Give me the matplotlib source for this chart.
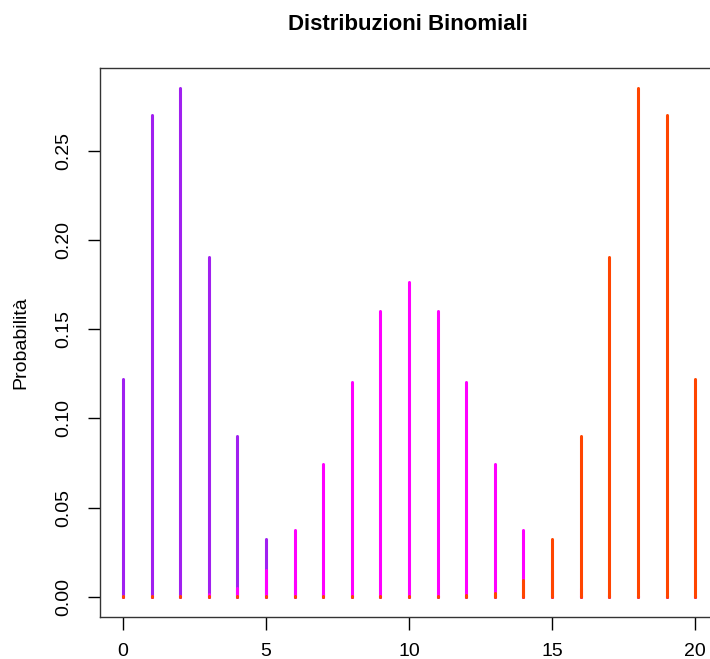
import matplotlib
matplotlib.use("Agg")
import matplotlib.pyplot as plt

plt.rcParams['font.family'] = ['Liberation Sans', 'DejaVu Sans']

x = list(range(21))
p_01 = [0.1216, 0.2702, 0.2852, 0.1901, 0.0898, 0.0319, 0.0089, 0.0020, 0.0004,
        0.0001, 0.0000, 0.0, 0.0, 0.0, 0.0, 0.0, 0.0, 0.0, 0.0, 0.0, 0.0]
p_05 = [0.0000, 0.0000, 0.0002, 0.0011, 0.0046, 0.0148, 0.0370, 0.0739, 0.1201,
        0.1602, 0.1762, 0.1602, 0.1201, 0.0739, 0.0370, 0.0148, 0.0046, 0.0011,
        0.0002, 0.0000, 0.0000]
p_09 = [0.0, 0.0, 0.0, 0.0, 0.0, 0.0, 0.0, 0.0, 0.0, 0.0, 0.0000, 0.0001, 0.0004,
        0.0020, 0.0089, 0.0319, 0.0898, 0.1901, 0.2852, 0.2702, 0.1216]

series = [(p_01, '#A020F0'), (p_05, '#FF00FF'), (p_09, '#FF4500')]
xticks = [0, 5, 10, 15, 20]
yticks = [0.00, 0.05, 0.10, 0.15, 0.20, 0.25]

fig = plt.figure(figsize=(7.10, 6.59), dpi=100)
ax = fig.add_axes([100/710, (659-617)/659, 618/710, (617-68)/659])

for vals, col in series:
    ax.vlines(x, 0, [v + 3e-4 for v in vals], colors=col, linewidth=2.2,
              capstyle='round')

ax.set_xlim(-0.8, 20.8)
ax.set_ylim(-0.0114, 0.2966)
ax.set_xticks(xticks)
ax.set_xticklabels([str(t) for t in xticks])
ax.set_yticks(yticks)
ax.set_yticklabels([f"{t:.2f}" for t in yticks], rotation=90, va='center')
ax.tick_params(axis='both', length=9, width=1.0, labelsize=14, colors='black')
ax.tick_params(axis='y', pad=11)
ax.tick_params(axis='x', pad=10)
for s in ax.spines.values():
    s.set_color('#333333')
    s.set_linewidth(1.0)

ax.set_ylabel('Probabilità', fontsize=14)
ax.yaxis.label.set_va('center')
ax.yaxis.set_label_coords(-(100-21)/618, 0.5)
fig.text(0.5 * (287 + 528) / 710, 1 - 24/659, 'Distribuzioni Binomiali',
         ha='center', va='center', fontsize=16, fontweight='bold')

fig.savefig('out.png', dpi=100)
